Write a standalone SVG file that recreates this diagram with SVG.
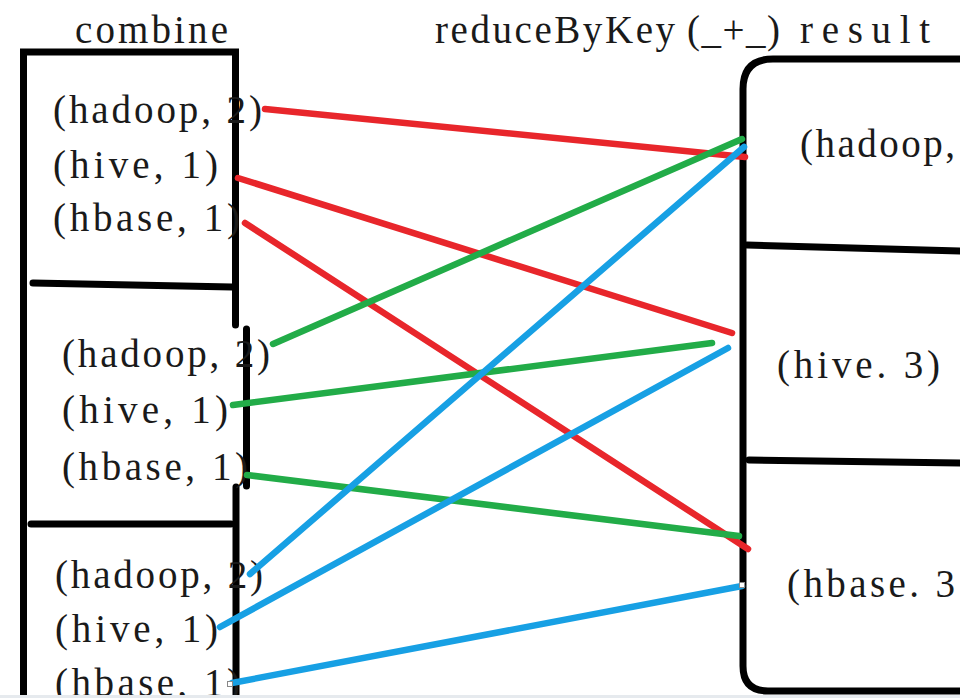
<svg xmlns="http://www.w3.org/2000/svg" width="960" height="698" viewBox="0 0 960 698">
<style>
text{font-family:"Liberation Serif","DejaVu Serif",serif;font-size:39px;fill:#1a1a1a}
.box{fill:none;stroke:#000;stroke-width:7;stroke-linecap:round}
.c{fill:none;stroke-width:6.5;stroke-linecap:round}
.r{stroke:#e8262b}.g{stroke:#22ac48}.b{stroke:#17a0e4}
.h{fill:#fff;stroke:#888;stroke-width:1}
</style>
<rect width="960" height="698" fill="#fff"/>
<g id="titles">
<text x="75" y="43" textLength="153" lengthAdjust="spacing">combine</text>
<text x="435" y="43"><tspan textLength="240" lengthAdjust="spacing">reduceByKey</tspan><tspan x="687" textLength="93" lengthAdjust="spacing">(_+_)</tspan><tspan x="800" textLength="130" lengthAdjust="spacing">result</tspan></text>
</g>
<g id="combine-box">
<path class="box" d="M23.5,698 V52 H235.5 V325"/>
<path class="box" d="M246.5,329 V486"/>
<path class="box" d="M236,487 V698"/>
<path class="box" d="M33,283 L232,287"/>
<path class="box" d="M31,524 L231,524"/>
</g>
<g id="combine-1">
<text x="53" y="123" textLength="209" lengthAdjust="spacing">(hadoop, 2)</text>
<text x="53" y="178" textLength="165" lengthAdjust="spacing">(hive, 1)</text>
<text x="53" y="231" textLength="187" lengthAdjust="spacing">(hbase, 1)</text>
</g>
<g id="combine-2">
<text x="62" y="367" textLength="208" lengthAdjust="spacing">(hadoop, 2)</text>
<text x="62" y="423" textLength="166" lengthAdjust="spacing">(hive, 1)</text>
<text x="62" y="480" textLength="186" lengthAdjust="spacing">(hbase, 1)</text>
</g>
<g id="combine-3">
<text x="55" y="588" textLength="208" lengthAdjust="spacing">(hadoop, 2)</text>
<text x="55" y="642" textLength="163" lengthAdjust="spacing">(hive, 1)</text>
<text x="55" y="696" textLength="185" lengthAdjust="spacing">(hbase, 1)</text>
</g>
<g id="result-box">
<path class="box" d="M990,59 H773 Q743,59 743,89 V666 Q743,691 768,691 H990"/>
<path class="box" d="M747,245 L960,251"/>
<path class="box" d="M749,460 L960,463"/>
</g>
<g id="result-hadoop"><text x="800" y="157" textLength="155" lengthAdjust="spacing">(hadoop,</text></g>
<g id="result-hive"><text x="777" y="378" textLength="163" lengthAdjust="spacing">(hive. 3)</text></g>
<g id="result-hbase"><text x="787" y="597" textLength="168" lengthAdjust="spacing">(hbase. 3</text></g>
<g id="connectors">
<line class="c r" x1="265" y1="109" x2="745" y2="157"/>
<line class="c r" x1="238" y1="178" x2="732" y2="333"/>
<line class="c r" x1="245" y1="223" x2="748" y2="549"/>
<line class="c g" x1="273" y1="344" x2="742" y2="139"/>
<line class="c g" x1="233" y1="405" x2="712" y2="343"/>
<line class="c g" x1="247" y1="475" x2="739" y2="536"/>
<line class="c b" x1="250" y1="574" x2="744" y2="147"/>
<line class="c b" x1="220" y1="627" x2="728" y2="348"/>
<line class="c b" x1="232" y1="683" x2="742" y2="586"/>
<rect class="h" x="739.5" y="582.5" width="5" height="5"/>
<rect class="h" x="227.5" y="681.5" width="5" height="5"/>
</g>
<rect x="0" y="695" width="960" height="3" fill="#e6eaee"/>
</svg>
